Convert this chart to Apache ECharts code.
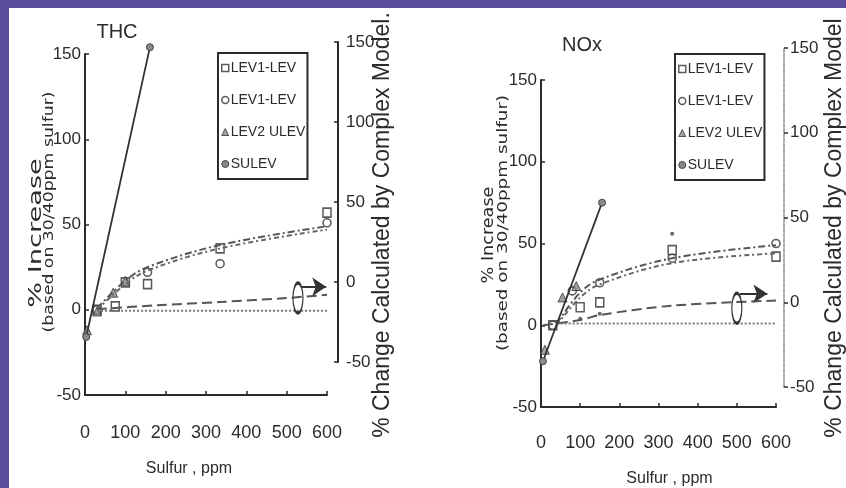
<!DOCTYPE html>
<html>
<head>
<meta charset="utf-8">
<script src="https://cdn.jsdelivr.net/npm/echarts@6/dist/echarts.min.js"></script>
<style>
  html, body { margin: 0; padding: 0; }
  body { width: 846px; height: 488px; background: #5b4d9e; position: relative; overflow: hidden; }
  #paper { position: absolute; left: 9px; top: 8px; right: 0; bottom: 0; background: #fff; }
  #chart { position: absolute; left: 0; top: 0; width: 846px; height: 488px; }
</style>
</head>
<body>
<div id="paper"></div>
<div id="chart"></div>
<script>
const FONT = "'Liberation Sans', Arial, sans-serif";
const DJV = "'DejaVu Sans', sans-serif";
const INK = '#2b2b2b';

// axis ranges
const sulfurMin = 0, sulfurMax = 600, sulfurStep = 100;
const pctMin = -50, pctMax = 150, pctStep = 50;

// ---- THC (left chart), left axis = % increase, right axis = complex model
const thcSquare   = [[30, 0], [75, 2], [100, 16], [155, 15], [335, 36], [600, 57]];
const thcCircle   = [[30, 0], [155, 22], [335, 27], [600, 51]];
const thcTriangle = [[5, -12], [30, -1], [70, 10], [100, 17]];
const thcSulev    = [[3, -16], [161, 154]];
const thcSulevDot = [];
const thcFitA     = [[30, 1], [100, 17], [155, 25], [335, 38], [600, 49]];
const thcFitB     = [[30, 0], [100, 15], [155, 23], [335, 36], [600, 47]];
const thcModelDash = [[30, -17], [180, -14.5], [335, -12.5], [500, -10], [600, -8]];
const thcModelDot  = [[30, -18], [600, -18]];
const thcEllipse   = [528, -10];
const thcArrow     = [[538, -3], [598, -3]];

// ---- NOx (right chart)
const noxSquare   = [[30, 0], [100, 11], [150, 14], [335, 46], [600, 42]];
const noxCircle   = [[30, 0], [80, 21], [150, 26], [335, 41], [600, 50]];
const noxTriangle = [[10, -15], [55, 17], [90, 24]];
const noxSulev    = [[5, -22], [156, 75]];
const noxSulevDot = [[100, 4], [150, 7], [335, 56]];
const noxFitA     = [[40, 1], [100, 20], [150, 28], [335, 41], [600, 49]];
const noxFitB     = [[40, 0], [100, 17], [150, 25], [335, 38], [600, 44]];
const noxModelDash = [[5, -13.5], [100, -10.5], [150, -7.5], [335, -2], [600, 1]];
const noxModelDot  = [[40, -12.5], [600, -12.5]];
const noxEllipse   = [500, -3.5];
const noxArrow     = [[508, 5], [578, 5]];

const names = ['LEV1-LEV \u25a1', 'LEV1-LEV \u25cb', 'LEV2 ULEV', 'SULEV'];

function panel(d, mi, ri) {
  const emptyStyle = { color: '#fff', borderColor: '#333', borderWidth: 1.6 };
  return [
    { type: 'line', xAxisIndex: mi, yAxisIndex: mi, data: d.fitA, smooth: 0.35, showSymbol: false, silent: true,
      lineStyle: { color: '#555', width: 2, type: [7, 3, 2, 3] } },
    { type: 'line', xAxisIndex: mi, yAxisIndex: mi, data: d.fitB, smooth: 0.35, showSymbol: false, silent: true,
      lineStyle: { color: '#666', width: 2, type: [5, 3, 2, 3] } },
    { type: 'line', xAxisIndex: ri, yAxisIndex: ri, data: d.modelDash, smooth: 0.3, showSymbol: false, silent: true,
      lineStyle: { color: '#555', width: 2, type: [10, 5] },
      markPoint: { silent: true, symbol: 'circle', symbolSize: [10, 30], label: { show: false },
        itemStyle: { color: 'transparent', borderColor: '#333', borderWidth: 2 },
        data: [{ coord: d.ellipse }] },
      markLine: { silent: true, symbol: ['none', 'arrow'], symbolSize: 14, label: { show: false },
        lineStyle: { color: '#333', width: 2, type: 'solid' },
        data: [[{ coord: d.arrow[0] }, { coord: d.arrow[1] }]] } },
    { type: 'line', xAxisIndex: ri, yAxisIndex: ri, data: d.modelDot, showSymbol: false, silent: true,
      lineStyle: { color: '#777', width: 2, type: [2, 2] } },
    { name: 'SULEV', type: 'line', xAxisIndex: mi, yAxisIndex: mi, data: d.sulev, symbol: 'circle', symbolSize: 7,
      clip: false,
      itemStyle: { color: '#8a8a8a', borderColor: '#444', borderWidth: 1 },
      lineStyle: { color: '#333', width: 1.8 } },
    { name: 'SULEV', type: 'scatter', xAxisIndex: mi, yAxisIndex: mi, data: d.sulevDot, symbol: 'circle', symbolSize: 4,
      itemStyle: { color: '#444' } },
    { name: names[0], type: 'scatter', xAxisIndex: mi, yAxisIndex: mi, data: d.square, symbol: 'rect',
      symbolSize: [8, 9], itemStyle: emptyStyle },
    { name: names[1], type: 'scatter', xAxisIndex: mi, yAxisIndex: mi, data: d.circle, symbol: 'circle',
      symbolSize: 8, itemStyle: emptyStyle },
    { name: names[2], type: 'scatter', xAxisIndex: mi, yAxisIndex: mi, data: d.triangle, symbol: 'triangle',
      symbolSize: 9, itemStyle: { color: '#8a8a8a', borderColor: '#333', borderWidth: 1 } }
  ];
}

function xAx(grid, show, gap, labelMargin, pad) {
  return {
    gridIndex: grid, type: 'value', min: sulfurMin, max: sulfurMax, interval: sulfurStep, show: show,
    name: 'Sulfur , ppm', nameLocation: 'middle', nameGap: gap,
    nameTextStyle: { fontSize: 16, fontFamily: FONT, color: INK, padding: pad },
    axisLine: { onZero: false, lineStyle: { color: INK, width: 2 } },
    axisTick: { inside: true, length: 4, lineStyle: { color: INK, width: 1.5 } },
    axisLabel: { margin: labelMargin, fontSize: 18, fontFamily: FONT, color: INK },
    splitLine: { show: false }
  };
}

function yAx(grid, pos, offset, margin, lineColor, tickInside, lineType) {
  return {
    gridIndex: grid, type: 'value', position: pos, offset: offset,
    min: pctMin, max: pctMax, interval: pctStep,
    axisLine: { show: true, onZero: false, lineStyle: { color: lineColor, width: 2, type: lineType || 'solid' } },
    axisTick: { show: true, inside: tickInside, length: 4, lineStyle: { color: INK, width: 1.5 } },
    axisLabel: { margin: margin, fontSize: 17, fontFamily: FONT, color: INK },
    splitLine: { show: false }
  };
}

function legendBox(left, top) {
  return {
    orient: 'vertical', left: left, top: top, padding: [8, 2, 8, 3],
    itemGap: 18, itemWidth: 7, itemHeight: 7,
    borderColor: INK, borderWidth: 2, selectedMode: false,
    formatter: n => n.replace(/ [\u25a1\u25cb]$/, ''),
    textStyle: { fontSize: 14, fontFamily: FONT, color: INK, padding: [0, 0, 0, -3] },
    data: [
      { name: names[0], icon: 'rect', itemStyle: { color: '#fff', borderColor: '#333', borderWidth: 1.5 } },
      { name: names[1], icon: 'circle', itemStyle: { color: '#fff', borderColor: '#333', borderWidth: 1.5 } },
      { name: names[2], icon: 'triangle', itemStyle: { color: '#8a8a8a', borderColor: '#333', borderWidth: 1 } },
      { name: names[3], icon: 'circle', itemStyle: { color: '#8a8a8a', borderColor: '#444', borderWidth: 1 } }
    ]
  };
}

// rotated axis titles; stretch along the text to follow the scanned original
function vText(x, y, text, size, family, stretch) {
  return { type: 'text', x: x, y: y, rotation: Math.PI / 2, scaleX: stretch || 1, silent: true,
    style: { text: text, fontSize: size, fontFamily: family, fill: INK, align: 'center', verticalAlign: 'middle' } };
}
function hText(x, y, text, size) {
  return { type: 'text', x: x, y: y, silent: true,
    style: { text: text, fontSize: size, fontFamily: FONT, fill: INK, align: 'center', verticalAlign: 'middle' } };
}

const chart = echarts.init(document.getElementById('chart'));
chart.setOption({
  animation: false,
  backgroundColor: 'transparent',
  grid: [
    { left: 85, top: 54, width: 242, height: 341, outerBoundsMode: 'none' },
    { left: 85, top: 42, width: 242, height: 320, outerBoundsMode: 'none' },
    { left: 541, top: 80, width: 235, height: 327, outerBoundsMode: 'none' },
    { left: 541, top: 48, width: 235, height: 339, outerBoundsMode: 'none' }
  ],
  xAxis: [
    xAx(0, true, 66, 29, [0, 34, 0, 0]),
    xAx(1, false, 0, 0, 0),
    xAx(2, true, 64, 27, [0, 0, 0, 22]),
    xAx(3, false, 0, 0, 0)
  ],
  yAxis: [
    yAx(0, 'left', 0, 4, INK, true),
    yAx(1, 'right', 11, 8, INK, true),
    yAx(2, 'left', 0, 4, INK, true),
    yAx(3, 'right', 8, 6, '#aaa', false, [3, 2])
  ],
  legend: [legendBox(218, 53), legendBox(675, 54)],
  graphic: [
    hText(117, 32, 'THC', 20),
    hText(582, 45, 'NOx', 20),
    vText(37, 233, '% Increase', 17, DJV, 1.6),
    vText(49, 212, '(based on 30/40ppm sulfur)', 13.5, DJV, 1.28),
    vText(489, 235, '% Increase', 16, DJV, 1.1),
    vText(503, 223, '(based on 30/40ppm sulfur)', 13.5, DJV, 1.36),
    vText(383, 225, '% Change Calculated by Complex Model.', 23, FONT),
    vText(835, 228, '% Change Calculated by Complex Model', 23, FONT)
  ],
  series: [].concat(
    panel({ square: thcSquare, circle: thcCircle, triangle: thcTriangle, sulev: thcSulev, sulevDot: thcSulevDot,
      fitA: thcFitA, fitB: thcFitB, modelDash: thcModelDash, modelDot: thcModelDot,
      ellipse: thcEllipse, arrow: thcArrow }, 0, 1),
    panel({ square: noxSquare, circle: noxCircle, triangle: noxTriangle, sulev: noxSulev, sulevDot: noxSulevDot,
      fitA: noxFitA, fitB: noxFitB, modelDash: noxModelDash, modelDot: noxModelDot,
      ellipse: noxEllipse, arrow: noxArrow }, 2, 3)
  )
});
</script>
</body>
</html>
